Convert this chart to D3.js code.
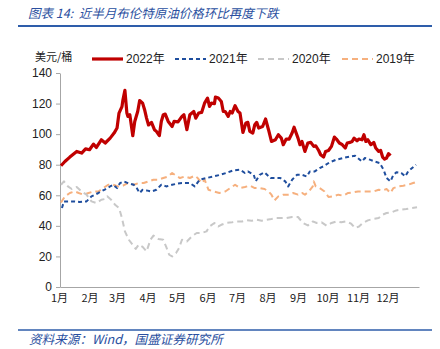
<!DOCTYPE html>
<html><head><meta charset="utf-8">
<script src="https://cdn.jsdelivr.net/npm/d3@7/dist/d3.min.js"></script>
<style>
html,body{margin:0;padding:0;background:#fff;}
svg{display:block;}
text.pre{white-space:pre;}
</style></head>
<body>
<svg id="c" width="440" height="349"></svg>
<script>
// ---- DATA (day of year, US$/bbl) ----
const days2022 = [1,5,10,17,22,26,30,34,37,42,46,51,55,58,60,63,64,66,68,69,71,74,76,79,81,84,86,88,90,93,96,98,101,103,105,107,110,114,116,120,124,126,129,132,136,138,141,144,147,150,152,154,157,158,161,164,166,168,171,173,175,178,181,183,186,189,191,193,196,198,200,202,206,209,212,215,219,222,225,227,230,233,236,238,242,244,246,249,252,255,258,260,263,265,268,270,273,276,279,281,284,287,290,292,295,297,299,302,304,307,309,311,313,316,319,321,324,326,328,330,332,334,336];
const brent2022 = [79.3,82.1,85,88.7,87.6,90.4,89.8,93.5,91.3,96.3,94.2,97.4,100.7,104,113.8,118,122.5,128.6,113.8,111.6,112.7,99,108.3,114.8,122,120.3,116,110.5,106,107.7,102.9,101.8,99,108.3,112.7,113.1,108.3,105,108.3,108,111.6,112.7,102.9,112.7,114.8,110.5,113.8,114.2,120.3,123.6,118.1,120.3,119.9,124.2,123.6,121.4,114.8,114.8,111.6,114.8,113.8,118.6,114.8,113.8,101.1,107.3,107.7,101.8,100.7,106.1,107.7,104,105,109.9,102.9,95.2,96.3,99.6,97.4,93.1,96.8,96.8,100.7,104.5,97.4,93.1,95.2,88.7,94.2,94.6,92,92.4,89.3,86.5,85,88.7,89.3,92,98.1,96.8,94.2,93.1,90.9,94.2,94.6,95.2,97.4,95.7,96.8,96.3,99.6,95.2,96.3,93.1,94.6,90.9,88.7,89.3,85,83.7,84.4,87.2,85.9];

const days2021 = [2,4,10,15,20,27,32,39,45,51,54,58,61,65,69,75,78,81,84,88,93,98,103,108,114,119,124,132,137,142,149,156,163,169,176,183,188,191,197,199,203,208,214,219,224,229,232,236,241,246,251,254,259,264,268,274,281,288,295,300,307,310,315,320,325,328,329,332,336,339,342,347,351,354,358,362];
const brent2021 = [51.7,56,56,56,55.6,56,59.3,61.5,63.6,65.8,66.9,64.7,68,69.1,68,66.9,64.7,61.5,63.6,63.2,62.5,63.6,66.9,65.8,66.9,67.6,68,68,65.8,70.2,71.3,72.3,73.4,74.6,76.3,76.7,74.6,75.6,73.4,69.1,73.4,75,71.3,71.3,71.3,69.1,65.8,70.2,73.4,73.4,72.3,75.6,75.6,77.8,79,81.5,83.3,84.4,85.4,85.9,82.1,84.4,83.3,82.1,81.1,77.8,76.7,71.3,69.1,73.4,75,74.6,72.3,75.6,77.8,80];

const days2020 = [1,4,8,12,17,22,27,32,37,42,46,48,52,56,60,63,66,70,75,77,80,84,88,92,95,100,105,108,111,114,118,121,124,129,134,139,144,149,152,157,161,164,169,175,180,185,190,195,200,205,210,215,220,225,230,236,242,247,252,257,261,266,271,276,281,286,291,296,300,304,308,313,318,324,328,332,337,342,347,352,358,363];
const brent2020 = [66.9,69.1,65.8,64.1,65.4,62.5,60.4,56,54.9,57.1,57.6,59.3,57.1,53.8,51.7,45.1,36.4,30.9,26.6,24.9,27.7,26.2,23.3,30.9,33.6,31.4,30.9,26.2,21.1,20,22.2,25.5,30.9,29.8,33.1,35.3,35.3,36.4,39.6,41.9,39.6,40.7,41.9,42.3,42.9,42.9,43.6,43.4,44,43.4,44,44.5,45.1,45.1,45.1,45.8,45.8,41.9,40.3,42.9,41.9,42.3,40.1,41.9,42.9,42.3,42.9,41.4,38.6,39.6,41.9,43.6,44.5,45.1,47.3,48.4,48.8,50.1,50.6,51,51.7,52.1];

const days2019 = [1,5,10,15,19,24,29,34,39,44,49,54,59,64,69,75,80,85,90,95,100,105,110,114,118,122,127,132,137,140,144,147,151,156,162,168,173,178,183,188,193,198,203,208,212,215,218,222,227,232,237,242,246,249,253,257,258,260,264,269,273,278,283,288,293,298,303,308,313,319,324,328,332,336,339,344,349,354,359,364];
const brent2019 = [55.3,59.3,61.5,62.5,61.5,60.4,61.5,62.5,62.5,64.7,66.9,66.9,65.8,66.3,68,66.9,68,68,69.1,70.2,70.2,71.3,72.3,74.6,72.8,71.3,72.3,71.3,72.8,71.3,68,70.2,63.6,62.5,61.5,62.5,64.7,66.9,64.7,65.4,66.3,64.7,64.7,64.1,62.5,60.4,56.6,59.3,60.4,60.4,61.5,60.4,61.5,60.4,62.5,65.8,69.1,65.8,64.7,62.5,58.9,59.3,60.4,59.7,61.5,61.9,62.5,62.5,62.5,62.5,63.6,63.2,64.1,61.5,64.7,65.8,66.3,66.9,68,69.1];

const seriesNames = ["2022年","2021年","2020年","2019年"];
const monthStarts = [0,31,59,90,120,151,181,212,243,273,304,334];
const monthLabels = ["1月","2月","3月","4月","5月","6月","7月","8月","9月","10月","11月","12月"];
const yTicks = [0,20,40,60,80,100,120,140];

const titleText = "图表 14:  近半月布伦特原油价格环比再度下跌";
const sourceText = "资料来源：Wind，国盛证券研究所";
const unitText = "美元/桶";

// ---- STYLE ----
const styles = {
  "2022年": {color:"#C00000", width:3.2, dash:null},
  "2021年": {color:"#1F4E9E", width:2, dash:"4,3"},
  "2020年": {color:"#C8C8C8", width:2, dash:"6,4"},
  "2019年": {color:"#F6B07E", width:2, dash:"6,4"}
};
const seriesData = {
  "2022年": d3.zip(days2022, brent2022),
  "2021年": d3.zip(days2021, brent2021),
  "2020年": d3.zip(days2020, brent2020),
  "2019年": d3.zip(days2019, brent2019)
};

const svg = d3.select("#c");
const cjk = "'Noto Sans CJK SC','Noto Sans',sans-serif";
const latin = "'Liberation Sans',Arial,'Noto Sans CJK SC',sans-serif";
const blueText = "#2A4FA0";

// title + rules
svg.append("text").attr("class","pre").attr("x",28).attr("y",18).text(titleText)
  .attr("font-family",cjk).attr("font-size",12.5).attr("font-style","italic")
  .attr("fill",blueText);
svg.append("line").attr("x1",18).attr("x2",432).attr("y1",26).attr("y2",26)
  .attr("stroke","#2E5DAA").attr("stroke-width",2);
svg.append("line").attr("x1",18).attr("x2",432).attr("y1",330).attr("y2",330)
  .attr("stroke","#2E5DAA").attr("stroke-width",1.5);
svg.append("text").attr("x",29).attr("y",344).text(sourceText)
  .attr("font-family",cjk).attr("font-size",12.6).attr("font-style","italic")
  .attr("fill",blueText);

// scales
const x = d3.scaleLinear().domain([0,365]).range([60,419]);
const y = d3.scaleLinear().domain([0,140]).range([287,73]);

// y axis
const yAxis = svg.append("g").attr("transform","translate(60,0)")
  .call(d3.axisLeft(y).tickValues(yTicks).tickSize(4).tickSizeOuter(0));
yAxis.select(".domain").attr("stroke","#A6A6A6");
yAxis.selectAll(".tick line").attr("stroke","#A6A6A6");
yAxis.selectAll("text").attr("font-family",latin).attr("font-size",12).attr("fill","#222").attr("x",-8);

// x axis
const xAxis = svg.append("g").attr("transform","translate(0,287)")
  .call(d3.axisBottom(x).tickValues(monthStarts).tickFormat((d,i)=>monthLabels[i]).tickSize(0).tickSizeOuter(0));
xAxis.select(".domain").attr("stroke","#A6A6A6");
xAxis.selectAll("text").attr("font-family",cjk).attr("font-size",11).attr("fill","#222").attr("dy","1.05em").attr("dx",-1);

// lines
const line = d3.line().x(d=>x(d[0])).y(d=>y(d[1])).curve(d3.curveLinear);
["2019年","2020年","2021年","2022年"].forEach(name=>{
  const s = styles[name];
  svg.append("path").datum(seriesData[name]).attr("d",line)
    .attr("fill","none").attr("stroke",s.color).attr("stroke-width",s.width)
    .attr("stroke-dasharray",s.dash).attr("stroke-linejoin","round");
});

// legend
svg.append("text").attr("x",35).attr("y",61).text(unitText)
  .attr("font-family",cjk).attr("font-size",11).attr("fill","#222");
const legX = [92,175,258,342];
seriesNames.forEach((name,i)=>{
  const s = styles[name];
  svg.append("line").attr("x1",legX[i]).attr("x2",legX[i]+31).attr("y1",59).attr("y2",59)
    .attr("stroke",s.color).attr("stroke-width",s.width).attr("stroke-dasharray",s.dash);
  svg.append("text").attr("x",legX[i]+34).attr("y",63).text(name)
    .attr("font-family",latin).attr("font-size",12).attr("fill","#222");
});
</script>
</body></html>
